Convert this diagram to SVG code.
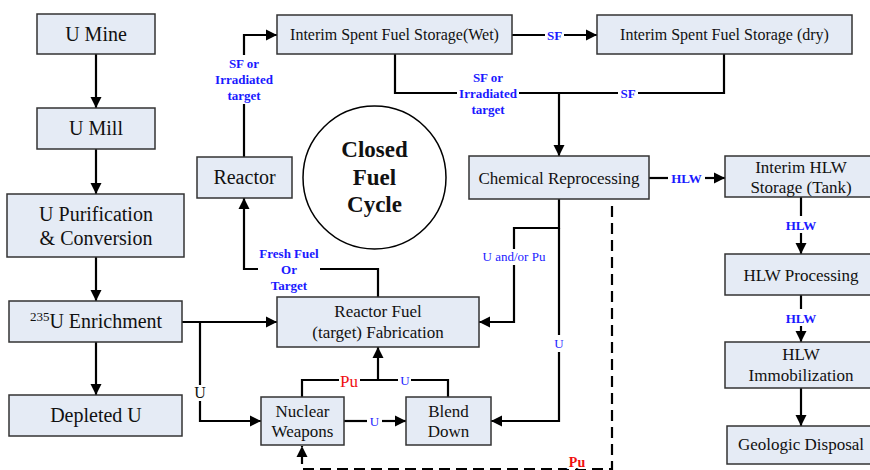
<svg xmlns="http://www.w3.org/2000/svg" width="870" height="470" viewBox="0 0 870 470">
<style>
.box{fill:#E5EBF5;stroke:#333;stroke-width:1.5}
.t{font-family:"Liberation Serif","Times New Roman",serif;fill:#111;text-anchor:middle}
.t20{font-size:20px}
.t17{font-size:17px}
.t16{font-size:16px}
.ln{fill:none;stroke:#000;stroke-width:2.2}
.dash{fill:none;stroke:#000;stroke-width:2.2;stroke-dasharray:11 6}
.lb{font-family:"Liberation Serif","Times New Roman",serif;font-size:13px;font-weight:bold;fill:#1a1aff;text-anchor:middle}
.ln2{font-family:"Liberation Serif","Times New Roman",serif;font-size:13px;fill:#1a1aff;text-anchor:middle}
.red{font-family:"Liberation Serif","Times New Roman",serif;font-size:17px;fill:#f01010;text-anchor:middle}
</style>
<defs>
<marker id="ah" viewBox="0 0 10 10" refX="10" refY="5" markerWidth="11" markerHeight="12" markerUnits="userSpaceOnUse" orient="auto"><path d="M0,0 L10,5 L0,10 z" fill="#000"/></marker>
</defs>
<rect width="870" height="470" fill="#fff"/>
<g id="connectors">
<path class="ln" d="M96,54 V108" marker-end="url(#ah)"/>
<path class="ln" d="M96,149 V194" marker-end="url(#ah)"/>
<path class="ln" d="M96,257 V301" marker-end="url(#ah)"/>
<path class="ln" d="M96,342 V395" marker-end="url(#ah)"/>
<path class="ln" d="M182,322 H277" marker-end="url(#ah)"/>
<path class="ln" d="M200,322 V385"/>
<path class="ln" d="M200,401 V421 H261" marker-end="url(#ah)"/>
<text class="t t16" x="200" y="398">U</text>
<path class="ln" d="M244,157 V104"/>
<path class="ln" d="M244,55 V35 H277" marker-end="url(#ah)"/>
<text class="lb" x="244" y="68">SF or</text>
<text class="lb" x="244" y="84">Irradiated</text>
<text class="lb" x="244" y="100">target</text>
<path class="ln" d="M378,297 V269 H320"/>
<path class="ln" d="M258,269 H244 V198" marker-end="url(#ah)"/>
<text class="lb" x="289" y="258">Fresh Fuel</text>
<text class="lb" x="289" y="274">Or</text>
<text class="lb" x="289" y="290">Target</text>
<path class="ln" d="M512,35 H545"/>
<path class="ln" d="M564,35 H597" marker-end="url(#ah)"/>
<text class="lb" x="554.5" y="39.5">SF</text>
<path class="ln" d="M395,54 V93 H457"/>
<path class="ln" d="M519,93 H559 V156" marker-end="url(#ah)"/>
<text class="lb" x="488" y="82">SF or</text>
<text class="lb" x="488" y="98">Irradiated</text>
<text class="lb" x="488" y="114">target</text>
<path class="ln" d="M724,54 V93 H638"/>
<path class="ln" d="M618,93 H559"/>
<text class="lb" x="628" y="97.5">SF</text>
<path class="ln" d="M649,178 H668"/>
<path class="ln" d="M705,178 H725" marker-end="url(#ah)"/>
<text class="lb" x="686.5" y="182.5">HLW</text>
<path class="ln" d="M801,197 V216"/>
<path class="ln" d="M801,233 V254" marker-end="url(#ah)"/>
<text class="lb" x="801" y="230">HLW</text>
<path class="ln" d="M801,295 V309"/>
<path class="ln" d="M801,326 V342" marker-end="url(#ah)"/>
<text class="lb" x="801" y="323">HLW</text>
<path class="ln" d="M801,388 V426" marker-end="url(#ah)"/>
<path class="ln" d="M559,199 V228 H514 V249"/>
<path class="ln" d="M514,265 V322 H479" marker-end="url(#ah)"/>
<text class="ln2" x="514" y="261">U and/or Pu</text>
<path class="ln" d="M559,228 V335"/>
<path class="ln" d="M559,352 V421 H491" marker-end="url(#ah)"/>
<text class="ln2" x="559" y="348">U</text>
<path class="ln" d="M344,421 H367"/>
<path class="ln" d="M382,421 H406" marker-end="url(#ah)"/>
<text class="ln2" x="374.5" y="425.5">U</text>
<path class="ln" d="M302,397 V380 H339"/>
<path class="ln" d="M360,380 H398"/>
<path class="ln" d="M411,380 H448 V397"/>
<path class="ln" d="M378,380 V347" marker-end="url(#ah)"/>
<text class="red" x="349" y="387">Pu</text>
<text class="ln2" x="405" y="384.5">U</text>
<path class="dash" d="M612,206 V469 H302 V446" marker-end="url(#ah)"/>
<text x="577" y="467" style="font-family:'Liberation Serif','Times New Roman',serif;font-size:14px;font-weight:bold;fill:#f01010;text-anchor:middle;stroke:#fff;stroke-width:4;paint-order:stroke">Pu</text>
</g>
<g id="u-mine"><rect class="box" x="37" y="14" width="118" height="40"/><text class="t t20" x="96" y="41">U Mine</text></g>
<g id="u-mill"><rect class="box" x="37" y="108" width="118" height="41"/><text class="t t20" x="96" y="135">U Mill</text></g>
<g id="u-purification"><rect class="box" x="7" y="194" width="177" height="63"/><text class="t t20" x="96" y="221">U Purification</text><text class="t t20" x="96" y="245">&amp; Conversion</text></g>
<g id="enrichment"><rect class="box" x="9" y="301" width="173" height="41"/><text class="t t20" x="96" y="328"><tspan font-size="13" dy="-7">235</tspan><tspan dy="7">U Enrichment</tspan></text></g>
<g id="depleted-u"><rect class="box" x="9" y="395" width="173" height="41"/><text class="t t20" x="96" y="422">Depleted U</text></g>
<g id="reactor"><rect class="box" x="197" y="157" width="95" height="41"/><text class="t t20" x="244.5" y="184">Reactor</text></g>
<g id="closed-fuel-cycle"><circle cx="374.5" cy="177.5" r="71.5" fill="#fff" stroke="#000" stroke-width="1.5"/><text class="t" x="374.5" y="157" style="font-size:23px;font-weight:bold">Closed</text><text class="t" x="374.5" y="185" style="font-size:23px;font-weight:bold">Fuel</text><text class="t" x="374.5" y="212" style="font-size:23px;font-weight:bold">Cycle</text></g>
<g id="interim-wet"><rect class="box" x="277" y="15" width="235" height="39"/><text class="t t16" x="394.5" y="40">Interim Spent Fuel Storage(Wet)</text></g>
<g id="interim-dry"><rect class="box" x="597" y="15" width="255" height="39"/><text class="t t16" x="724.5" y="40">Interim Spent Fuel Storage (dry)</text></g>
<g id="chemical-reprocessing"><rect class="box" x="469" y="156" width="180" height="43"/><text class="t t17" x="559" y="183.5">Chemical Reprocessing</text></g>
<g id="interim-hlw"><rect class="box" x="725" y="156" width="152" height="41"/><text class="t t17" x="801" y="173">Interim HLW</text><text class="t t17" x="801" y="193">Storage (Tank)</text></g>
<g id="hlw-processing"><rect class="box" x="725" y="254" width="152" height="41"/><text class="t t17" x="801" y="280.5">HLW Processing</text></g>
<g id="hlw-immobilization"><rect class="box" x="725" y="342" width="152" height="46"/><text class="t t17" x="801" y="360">HLW</text><text class="t t17" x="801" y="381">Immobilization</text></g>
<g id="geologic-disposal"><rect class="box" x="727" y="426" width="150" height="38"/><text class="t t17" x="801" y="450">Geologic Disposal</text></g>
<g id="fuel-fabrication"><rect class="box" x="277" y="297" width="202" height="50"/><text class="t t17" x="378" y="317">Reactor Fuel</text><text class="t t17" x="378" y="338">(target) Fabrication</text></g>
<g id="nuclear-weapons"><rect class="box" x="261" y="397" width="83" height="48"/><text class="t t17" x="302.5" y="417">Nuclear</text><text class="t t17" x="302.5" y="437">Weapons</text></g>
<g id="blend-down"><rect class="box" x="406" y="397" width="85" height="48"/><text class="t t17" x="448.5" y="417">Blend</text><text class="t t17" x="448.5" y="437">Down</text></g>
</svg>
